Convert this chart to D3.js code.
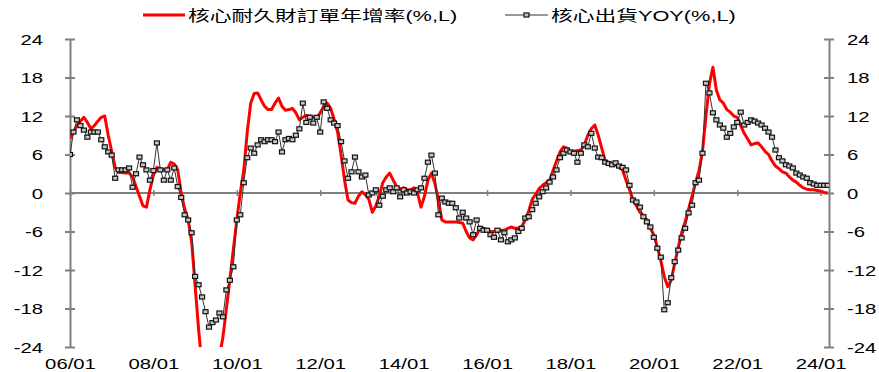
<!DOCTYPE html>
<html>
<head>
<meta charset="utf-8">
<script src="https://cdn.jsdelivr.net/npm/d3@7"></script>
<style>
body { margin: 0; background: #fff; }
svg { display: block; }
</style>
</head>
<body>
<svg id="chart"></svg>
<script>
// monthly data, 2006/01 .. 2024/03
const startYear = 2006;
const xLabels = ["06/01", "08/01", "10/01", "12/01", "14/01", "16/01", "18/01", "20/01", "22/01", "24/01"];
const yTicks = [-24, -18, -12, -6, 0, 6, 12, 18, 24];
const seriesNames = ["核心耐久財訂單年增率(%,L)", "核心出貨YOY(%,L)"];

// 核心耐久財訂單年增率
const orders = [
  8.5, 9.5, 10.5, 11.2, 11.8, 11, 10, 10.5, 11.2, 11.8, 12, 9,
  6.5, 4, 3.2, 3.2, 3.1, 3.1, 2.5, 1, -0.5, -2, -2.2, 0.5,
  2.8, 4, 3.8, 3.6, 3.6, 4.8, 4.5, 3.6, 0, -2.5, -4.2, -7.6,
  -14.4, -21.2, -27, -29, -30, -29.5, -28, -25.5, -22.5, -18, -13.5, -8.8,
  -4.2, 0, 3.5, 9.5, 14, 15.5, 15.6, 14.5, 13.5, 13, 13, 14,
  14.8, 13.5, 12.9, 13, 13.2, 12.5, 11.4, 11.8, 12.1, 12, 11.8, 11.7,
  12.5, 13.5, 14, 13.2, 11.5, 9.5, 6, 2, -1.1, -1.5, -1.6, -0.5,
  0.2, -0.3, -1, -3, -2, -0.5, 1.6, 2.5, 3.1, 2, 1, 0.5,
  0.8, 0.5, 0.5, 0.8, 0, -2.2, -0.5, 2, 3.1, 1.5, -1.1, -4.2,
  -4.5, -4.5, -4.5, -4.5, -4.6, -4.7, -6, -7, -7.3, -6.5, -5.5, -5.5,
  -5.8, -6, -6, -6, -5.8, -5.8, -5.5, -5.3, -5.5, -5.5, -5.2, -4.2,
  -2.8, -1, -0.2, 0.7, 1.2, 1.6, 2, 3.5, 5, 6.4, 7.2, 7,
  6.4, 6.5, 6.6, 6.7, 7.5, 9, 10, 10.6, 9, 7, 5, 4.6,
  4.5, 4.4, 4, 3.6, 2, 0.5, -1.1, -2, -3, -3.5, -4.2, -5.5,
  -6.5, -8.4, -10.5, -13, -14.6, -13.6, -11, -8.5, -6.2, -4.5, -2.5, -0.5,
  1.6, 3.5, 6.5, 12, 17, 19.6, 16, 14.5, 14, 13, 12.6, 12,
  11.8, 10.5, 9.3, 8.4, 7.5, 7.7, 7.8, 7.2, 6.5, 6, 5, 4.2,
  3.8, 3.3, 3.1, 2.5, 2, 1.7, 1.2, 0.8, 0.6, 0.5, 0.5, 0.4,
  0.3, 0.1, 0
];

// 核心出貨YOY
const shipments = [
  6, 9.5, 11.4, 10.5, 9.8, 8.7, 9.5, 9.5, 9.5, 8.3, 7.2, 6.4,
  5.9, 2.3, 3.6, 3.6, 3.6, 3.9, 0.9, 3, 5.6, 4.4, 3.6, 2,
  3.5, 7.8, 3.6, 2, 3.6, 2, 3.9, 1, -0.7, -3.4, -4.2, -6.2,
  -13, -14.3, -16.2, -18.5, -20.9, -20.2, -19.8, -18.7, -19.3, -15.1, -13.6, -11.5,
  -4.2, -3.4, 1.6, 5.5, 7, 6.2, 7.5, 8.3, 8, 8.3, 8.3, 8,
  9.5, 6.4, 8.3, 8.5, 8.3, 9, 10, 14, 11, 11.8, 10.9, 11.8,
  9.5, 14.2, 13.2, 11.4, 10.9, 10.5, 8, 5, 2.3, 3.3, 5.6, 3.3,
  2.5, 2.8, -0.3, 0, 0.5, -1.9, -0.5, 0.5, 0.8, 0.2, 0.8, -0.6,
  0.5, 0, 0.2, 0, 0.5, 0.8, 2.3, 4.8, 5.9, 3.1, -3.4, -0.8,
  -1.4, -1.6, -1.6, -2.3, -3.9, -3, -3.9, -4.5, -6.5, -4.2, -5.5, -5.8,
  -5.8, -6.5, -6.9, -5.8, -7.3, -6.2, -7.6, -7.3, -7, -6, -5.5, -3.9,
  -3.7, -2.6, -1.6, -0.6, 0.2, 0.8, 1.7, 2.5, 3.6, 5.5, 6.2, 6.7,
  6.4, 6.2, 4.8, 6.2, 7.5, 7.2, 9.3, 7, 5.6, 5.5, 4.8, 4.6,
  4.4, 4.7, 4.2, 4, 3.6, 1.2, -1.1, -1.4, -2.2, -3.7, -4.5, -5.3,
  -6.9, -8.6, -10, -18.2, -17.1, -13.2, -10.7, -8.9, -7, -5.5, -3.1, -1.9,
  1.6, 2, 6.2, 17.1, 15.6, 12.5, 11.4, 10.6, 10.1, 8.7, 9.3, 10.3,
  11, 12.6, 10.6, 11, 11.4, 11.2, 10.9, 10.6, 10.1, 9.5, 8.7, 6.7,
  5.5, 5, 4.4, 4.2, 3.9, 3.1, 2.8, 2.5, 2.3, 1.6, 1.4, 1.2,
  1.2, 1.2, 1.2
];

const width = 879, height = 372;
const plot = {left: 70, right: 829, top: 39, bottom: 347};
const axisColor = '#808080';
const latin = '"Liberation Sans", Arial, sans-serif';
const cjk = '"Liberation Sans", "Noto Sans CJK TC", sans-serif';
const stretch = 1.45;

const svg = d3.select('#chart')
  .attr('width', width)
  .attr('height', height);

const x = d3.scaleLinear()
  .domain([0, orders.length - 1])
  .range([plot.left, 827.6]);

const y = d3.scaleLinear()
  .domain([-24, 24])
  .range([plot.bottom, plot.top]);

svg.append('clipPath').attr('id', 'clip')
  .append('rect')
  .attr('x', plot.left).attr('y', plot.top)
  .attr('width', plot.right - plot.left)
  .attr('height', plot.bottom - plot.top);

// value axes on both sides, with cross tick marks
function styleValueAxis(g, labelShift, anchor) {
  g.attr('font-family', latin).attr('font-size', 14);
  g.select('.domain').attr('stroke', axisColor).attr('stroke-width', 2);
  g.selectAll('.tick line')
    .attr('x1', -5).attr('x2', 5)
    .attr('stroke', axisColor).attr('stroke-width', 2);
  g.selectAll('.tick text')
    .attr('x', 0).attr('dy', '0.36em')
    .attr('fill', '#000')
    .attr('text-anchor', anchor)
    .attr('transform', `translate(${labelShift},0) scale(${stretch},1)`);
}

const leftAxis = svg.append('g')
  .attr('transform', `translate(${plot.left},0)`)
  .call(d3.axisLeft(y).tickValues(yTicks).tickSize(0).tickSizeOuter(0).tickFormat(d => String(d)));
styleValueAxis(leftAxis, -27, 'end');

const rightAxis = svg.append('g')
  .attr('transform', `translate(${plot.right},0)`)
  .call(d3.axisRight(y).tickValues(yTicks).tickSize(0).tickSizeOuter(0).tickFormat(d => String(d)));
styleValueAxis(rightAxis, 18, 'start');

// category axis on the zero line
const tickIdx = xLabels.map((d, i) => i * 24);

const zeroAxis = svg.append('g')
  .attr('transform', `translate(0,${y(0)})`)
  .call(d3.axisBottom(x).tickValues(tickIdx).tickSize(0).tickSizeOuter(0).tickFormat(''));
zeroAxis.select('.domain')
  .attr('d', `M${plot.left},0H${plot.right}`)
  .attr('stroke', axisColor).attr('stroke-width', 2);
zeroAxis.selectAll('.tick line')
  .attr('y1', -3).attr('y2', 3)
  .attr('stroke', axisColor).attr('stroke-width', 1.5);

// labels at the bottom of the plot
const labelAxis = svg.append('g')
  .attr('transform', `translate(0,${height - 3})`)
  .call(d3.axisBottom(x).tickValues(tickIdx).tickSize(0).tickFormat((d, i) => xLabels[i]));
labelAxis.select('.domain').remove();
labelAxis.attr('font-family', latin).attr('font-size', 14);
labelAxis.selectAll('.tick text')
  .attr('y', 0).attr('dy', 0)
  .attr('fill', '#000')
  .attr('transform', `scale(${stretch},1)`);

// series
const lineGen = d3.line()
  .x((d, i) => x(i))
  .y(d => y(d));

const marks = svg.append('g').attr('clip-path', 'url(#clip)');

marks.append('path')
  .datum(orders)
  .attr('fill', 'none')
  .attr('stroke', '#ff0000')
  .attr('stroke-width', 3)
  .attr('stroke-linejoin', 'round')
  .attr('d', lineGen);

marks.append('path')
  .datum(shipments)
  .attr('fill', 'none')
  .attr('stroke', '#333')
  .attr('stroke-width', 1)
  .attr('d', lineGen);

marks.selectAll('rect.pt')
  .data(shipments)
  .enter()
  .append('rect')
  .attr('class', 'pt')
  .attr('x', (d, i) => x(i) - 2.5)
  .attr('y', d => y(d) - 2)
  .attr('width', 5)
  .attr('height', 4)
  .attr('fill', '#c8c8c8')
  .attr('stroke', '#111')
  .attr('stroke-width', 1.2);

// legend
const legend = svg.append('g');
legend.append('line')
  .attr('x1', 143).attr('x2', 185).attr('y1', 15).attr('y2', 15)
  .attr('stroke', '#ff0000').attr('stroke-width', 3);
legend.append('text')
  .attr('transform', `translate(188,21) scale(${stretch},1)`)
  .attr('font-family', cjk).attr('font-size', 15)
  .text(seriesNames[0]);

legend.append('line')
  .attr('x1', 505).attr('x2', 548).attr('y1', 15).attr('y2', 15)
  .attr('stroke', '#333').attr('stroke-width', 1);
legend.append('rect')
  .attr('x', 524).attr('y', 13).attr('width', 5).attr('height', 4)
  .attr('fill', '#c8c8c8').attr('stroke', '#111').attr('stroke-width', 1.2);
legend.append('text')
  .attr('transform', `translate(551,21) scale(${stretch},1)`)
  .attr('font-family', cjk).attr('font-size', 15)
  .text(seriesNames[1]);
</script>
</body>
</html>
